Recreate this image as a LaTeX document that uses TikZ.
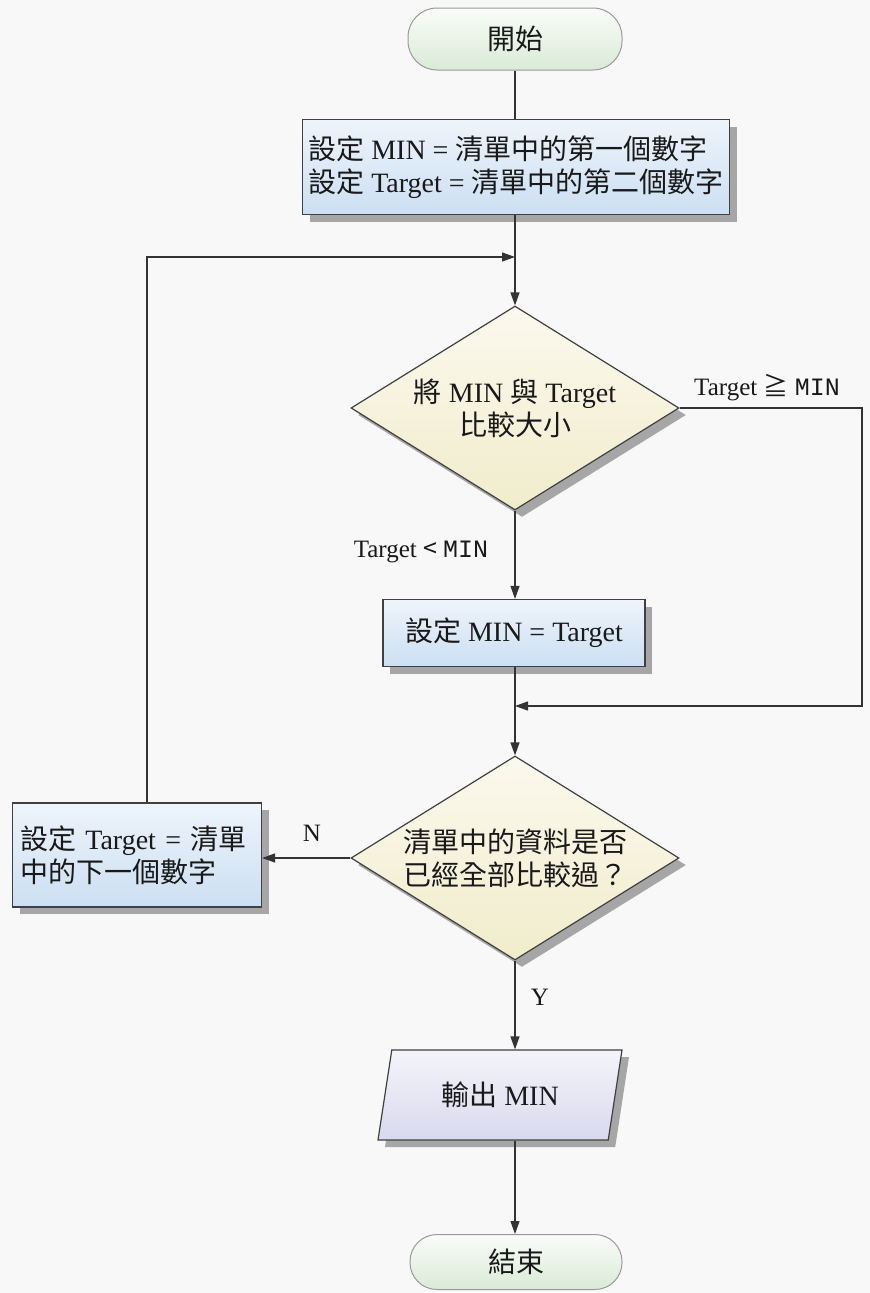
\documentclass[tikz,border=0pt]{standalone}
\usepackage{fontspec}
\setmainfont{Liberation Serif}
\newfontfamily\cjkfont{Noto Sans CJK TC}
\newfontfamily\monofont{Liberation Mono}
\newcommand{\zh}[1]{{\cjkfont #1}}
\newcommand{\mn}[1]{{\monofont #1}}
\usetikzlibrary{shapes.geometric,shadows,arrows.meta}
\definecolor{bgc}{HTML}{F8F8F8}
\definecolor{linec}{HTML}{333333}
\definecolor{boxtop}{HTML}{EEF4FB}
\definecolor{boxbot}{HTML}{CCDFF2}
\definecolor{dtop}{HTML}{FBF9EE}
\definecolor{dbot}{HTML}{F1ECCB}
\definecolor{ttop}{HTML}{FAFCF9}
\definecolor{tbot}{HTML}{D9EBD6}
\definecolor{ptop}{HTML}{F4F4FA}
\definecolor{pbot}{HTML}{D9D9EE}
\begin{document}
\begin{tikzpicture}[x=1pt,y=-1pt,
  conn/.style={draw=linec, line width=1.2pt},
  arr/.style={conn, -{Triangle[length=13pt,width=9pt]}},
  shadowed/.style={drop shadow={shadow xshift=7pt, shadow yshift=-7pt, fill=black!35, opacity=1}},
  txt/.style={font=\fontsize{28}{33}\selectfont, text=black!90},
  lbl/.style={font=\fontsize{25}{28}\selectfont, text=black!90, inner sep=0pt},
  termbox/.style={rectangle, rounded corners=29pt, draw=black!40, line width=1pt, top color=ttop, bottom color=tbot, txt, inner sep=0pt},
  procbox/.style={rectangle, draw=black!75, line width=1.2pt, top color=boxtop, bottom color=boxbot, shadowed, txt, inner sep=0pt, align=left},
  decbox/.style={diamond, draw=black!75, line width=1.2pt, top color=dtop, bottom color=dbot, shadowed, inner sep=0pt, minimum width=328pt, minimum height=204pt},
  dtext/.style={txt, align=center, inner sep=0pt},
  iobox/.style={trapezium, trapezium left angle=62, trapezium right angle=118, trapezium stretches body, draw=black!75, line width=1.2pt, top color=ptop, bottom color=pbot, shadowed, txt, inner sep=0pt}
]
\fill[bgc] (0,0) rectangle (870,1293);
\useasboundingbox (0,0) rectangle (870,1293);

\node[termbox, minimum width=214pt, minimum height=62pt] (start) at (515,39) {\zh{開始}};
\node[procbox, minimum width=427pt, minimum height=95pt] (box1) at (516,167)
  {\zh{設定} MIN = \zh{清單中的第一個數字}\\\zh{設定} Target = \zh{清單中的第二個數字}};
\node[decbox, label={[dtext]center:{\zh{將} MIN \zh{與} Target\\\zh{比較大小}}}] (d1) at (515,408) {};
\node[procbox, minimum width=262pt, minimum height=67pt, align=center] (box2) at (514,633)
  {\zh{設定} MIN = Target};
\node[decbox, label={[dtext]center:{\zh{清單中的資料是否}\\\zh{已經全部比較過？}}}] (d2) at (515,858) {};
\node[procbox, minimum width=249pt, minimum height=104pt, text width=234pt] (box3) at (137,855)
  {\zh{設定} Target = \zh{清單}\\\zh{中的下一個數字}};
\node[iobox, minimum width=244pt, minimum height=90pt] (out) at (500,1095) {\zh{輸出} MIN};
\node[termbox, minimum width=212pt, minimum height=55pt, rounded corners=27pt] (end) at (516,1262) {\zh{結束}};

\coordinate (m1) at (515,257);
\coordinate (c1) at (147,257);
\coordinate (m2) at (515,706);
\coordinate (r1) at (862,408);
\coordinate (r2) at (862,706);

\draw[conn] (start.south) -- (start.south |- box1.north);
\draw[arr] (box1.south -| m1) -- (d1.north);
\draw[arr] (d1.south) -- (d1.south |- box2.north);
\draw[arr] (box2.south -| d2.north) -- (d2.north);
\draw[arr] (d1.east) -- (r1) -- (r2) -- (m2);
\draw[arr] (d2.west) -- (box3.east |- d2.west);
\draw[arr] (box3.north -| c1) -- (c1) -- (m1);
\draw[arr] (d2.south) -- (d2.south |- out.north);
\draw[arr] (d2.south |- out.south) -- (end.north -| d2.south);

\node[lbl] (lge) at (767,388) {Target \zh{≧} \mn{MIN}};
\node[lbl] (llt) at (421,552) {Target \zh{<} \mn{MIN}};
\node[lbl] (ln) at (312,833) {N};
\node[lbl] (ly) at (540,997) {Y};
\end{tikzpicture}
\end{document}
